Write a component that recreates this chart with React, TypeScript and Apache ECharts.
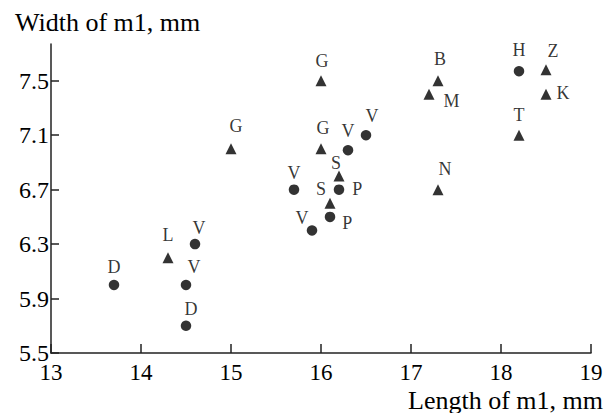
import React, { useEffect, useRef } from "react";
import * as echarts from "echarts";

// ---- data ----
const pointNames = ["G", "G", "G", "V", "V", "S", "V", "P", "S", "P", "V", "B", "M", "N", "H", "Z", "K", "T", "L", "D", "V", "V", "D"];
const lengthValues = [15.0, 16.0, 16.0, 16.3, 16.5, 16.2, 15.7, 16.2, 16.1, 16.1, 15.9, 17.3, 17.2, 17.3, 18.2, 18.5, 18.5, 18.2, 14.3, 13.7, 14.6, 14.5, 14.5];
const widthValues = [7.0, 7.5, 7.0, 6.99, 7.1, 6.8, 6.7, 6.7, 6.6, 6.5, 6.4, 7.5, 7.4, 6.7, 7.57, 7.58, 7.4, 7.1, 6.2, 6.0, 6.3, 6.0, 5.7];
const markerKinds = ["t", "t", "t", "c", "c", "t", "c", "c", "t", "c", "c", "t", "t", "t", "c", "t", "t", "t", "t", "c", "c", "c", "c"];
const xTicks = [13, 14, 15, 16, 17, 18, 19];
const yTicks = [5.5, 5.9, 6.3, 6.7, 7.1, 7.5];

// label placement (style only): [position, dx, dy]
const labelPlacement: [string, number, number][] = [
  ["top", 5, -3], ["top", 1, 0], ["top", 2, -1], ["top", 0, 0], ["top", 6, 0],
  ["top", -3, 6], ["top", 0, 3], ["right", 3, -1], ["top", -9, 5], ["right", 2, 6],
  ["top", -10, 7], ["top", 2, -2], ["right", 4, 7], ["top", 7, -1], ["top", 0, -2],
  ["top", 7, 1], ["right", 0, -1], ["top", 0, -1], ["top", 0, -3], ["top", 0, 1],
  ["top", 4, 3], ["top", 8, 1], ["top", 5, 2],
];

const FONT = "'Liberation Serif', 'Times New Roman', serif";

export default function App() {
  const ref = useRef<HTMLDivElement>(null);
  useEffect(() => {
    if (!ref.current) return;
    const chart = echarts.init(ref.current, undefined, { renderer: "svg" });
    const build = (kind: string) =>
      pointNames
        .map((n, i) => ({ n, i }))
        .filter(({ i }) => markerKinds[i] === kind)
        .map(({ n, i }) => ({
          name: n,
          value: [lengthValues[i], widthValues[i]],
          label: {
            position: labelPlacement[i][0],
            offset: [labelPlacement[i][1], labelPlacement[i][2]],
          },
        }));
    const labelStyle = {
      show: true,
      formatter: (p: any) => p.name,
      fontFamily: FONT,
      fontSize: 18,
      color: "#000",
      distance: 5,
    };
    chart.setOption({
      animation: false,
      backgroundColor: "#fff",
      grid: { left: 51, right: 22, top: 44, bottom: 60, containLabel: false, outerBoundsMode: "none" },
      xAxis: {
        type: "value",
        min: 13,
        max: 19,
        interval: 1,
        axisLine: { show: true, lineStyle: { color: "#222", width: 1.5 } },
        axisTick: { show: true, inside: true, length: 9, lineStyle: { color: "#222", width: 1.5 }, customValues: xTicks },
        axisLabel: { fontFamily: FONT, fontSize: 23, lineHeight: 23, color: "#000", margin: 8, customValues: xTicks },
        splitLine: { show: false },
      },
      yAxis: {
        type: "value",
        min: 5.5,
        max: 7.77,
        interval: 0.4,
        axisLine: { show: true, lineStyle: { color: "#222", width: 1.5 } },
        axisTick: { show: true, inside: true, length: 8, lineStyle: { color: "#222", width: 1.5 }, customValues: yTicks },
        axisLabel: {
          fontFamily: FONT,
          fontSize: 24,
          color: "#000",
          margin: 2,
          customValues: yTicks,
          formatter: (v: number) => v.toFixed(1),
        },
        splitLine: { show: false },
      },
      graphic: [
        {
          type: "text",
          left: 15,
          top: 9,
          style: { text: "Width of m1, mm", font: `26px ${FONT}`, fill: "#000" },
        },
        {
          type: "text",
          right: 10,
          top: 387,
          style: { text: "Length of m1, mm", font: `26px ${FONT}`, fill: "#000" },
        },
      ],
      series: [
        {
          type: "scatter",
          symbol: "circle",
          symbolSize: 10.5,
          itemStyle: { color: "#000" },
          label: labelStyle,
          data: build("c"),
        },
        {
          type: "scatter",
          symbol: "triangle",
          symbolSize: 11,
          itemStyle: { color: "#000" },
          label: labelStyle,
          data: build("t"),
        },
      ],
    });
    return () => chart.dispose();
  }, []);
  return <div ref={ref} style={{ position: "fixed", left: 0, top: 0, width: 613, height: 413 }} />;
}
